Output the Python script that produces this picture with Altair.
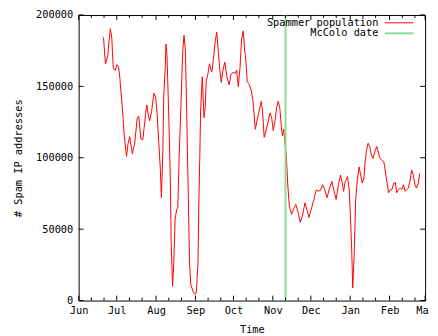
import altair as alt
import pandas as pd

# day offsets since 2008-06-01 and spammer population (thousands)
days = [18.8, 19.6, 21.1, 23.0, 23.7, 25.0, 26.1, 27.3, 28.8, 30.2,
        31.5, 32.5, 34.6, 35.8, 37.7, 38.9, 40.2, 42.3, 44.1, 46.2,
        47.4, 49.0, 50.5, 51.6, 53.6, 54.9, 55.9, 57.5, 59.3, 60.6,
        61.9, 63.2, 64.4, 65.2, 66.3, 67.1, 68.3, 68.8, 69.6, 70.9,
        72.2, 72.9, 74.0, 75.0, 76.0, 77.3, 78.1, 79.1, 80.7, 82.0,
        83.0, 84.1, 85.1, 86.4, 87.4, 88.4, 90.3, 92.0, 92.8, 94.1,
        94.6, 95.4, 96.1, 97.4, 98.8, 99.8, 100.5, 101.9, 103.1, 104.9,
        106.5, 107.5, 108.8, 110.1, 111.4, 112.4, 113.7, 115.2, 116.8, 118.6,
        119.9, 121.7, 123.2, 124.5, 125.8, 127.1, 128.4, 129.7, 130.9, 131.5,
        132.8, 134.0, 135.9, 137.4, 139.2, 141.0, 142.5, 143.9, 144.9, 146.2,
        147.7, 149.5, 150.8, 152.1, 153.4, 154.7, 156.0, 157.2, 158.5, 159.8,
        160.6, 161.6, 162.6, 163.7, 164.7, 166.0, 167.8, 169.4, 171.1, 173.0,
        174.6, 176.3, 178.4, 179.7, 181.5, 183.3, 185.4, 187.2, 188.7, 190.5,
        192.3, 193.9, 195.7, 197.4, 199.5, 201.3, 202.9, 204.7, 206.3, 207.5,
        208.8, 210.1, 211.9, 213.2, 214.5, 215.2, 216.0, 217.1, 218.3, 219.6,
        221.0, 222.2, 223.5, 224.8, 225.6, 226.8, 228.1, 229.5, 230.7, 232.0,
        233.3, 234.9, 236.1, 237.4, 239.0, 240.5, 242.3, 244.2, 245.7, 246.9,
        248.3, 249.6, 250.6, 251.9, 253.4, 254.7, 256.0, 257.3, 258.5, 259.9,
        261.2, 262.4, 263.7, 265.0, 266.3, 267.6, 268.9]

spammers_k = [184.7, 184, 165.8, 171.6, 179.6, 190.4, 184, 162.4, 161.3, 165.2,
              163.6, 155.5, 132.6, 116.6, 101, 109.8, 114.8, 102.9, 109.8, 128,
              129.2, 113.2, 112.5, 121, 137, 130, 125.8, 132.6, 145.2, 143,
              130, 109.8, 91.4, 72, 102.9, 144, 164.7, 179.6, 171.6, 132.6,
              86.8, 41, 10, 27.3, 57, 64, 65, 98.3, 139.5, 174,
              185.8, 176, 132.6, 73, 25, 11, 6, 4.3, 6.7, 27.3,
              64, 98.3, 132.6, 156.7, 128, 136, 153.3, 159, 165.8, 160,
              171.6, 180.8, 188, 174, 160, 152.8, 161.3, 167, 156.7, 151,
              157.9, 160, 159, 161.3, 149.8, 162.4, 183, 188.8, 174, 171.6,
              153.3, 152, 147.6, 139.5, 120, 128, 133.8, 139.5, 132.6, 114.3,
              119, 125.8, 131.5, 128, 119, 125.8, 134.9, 139.5, 134.9, 121.2,
              115.5, 120, 109.8, 100.5, 82.3, 66.2, 60.5, 64, 67.4, 61.6,
              54.8, 59.3, 68.5, 64, 58.2, 64, 70.8, 77.7, 76.5, 77.2,
              81.1, 77.7, 72, 77.7, 83.4, 76.5, 70.8, 81.1, 88, 83.4,
              76.5, 83.4, 86.8, 77.7, 52.4, 34.1, 8.9, 31.8, 70.8, 84.5,
              93.6, 88, 82.3, 85.7, 96, 105.2, 110.2, 107.4, 101.7, 99.5,
              104, 107.9, 104, 99.5, 98.3, 97.1, 86.8, 75.4, 77.7, 77.7,
              82.3, 82.7, 75.4, 77.7, 78.8, 77.7, 81.1, 76.5, 77.7, 78.8,
              84.5, 91.4, 88, 81.1, 78.8, 82.3, 89.1]

month_starts = ["2008-06-01", "2008-07-01", "2008-08-01", "2008-09-01", "2008-10-01",
                "2008-11-01", "2008-12-01", "2009-01-01", "2009-02-01", "2009-03-01"]
y_ticks = [0, 50000, 100000, 150000, 200000]
mccolo_date = "2008-11-11"
series_labels = ["Spammer population", "McColo date"]
series_colors = ["#ff0000", "#8edc8e"]

W, H = 353, 291
FONT = "DejaVu Sans Mono"
FS = 10.5

start = pd.Timestamp("2008-06-01")
df = pd.DataFrame({
    "date": [(start + pd.to_timedelta(d, unit="D")).strftime("%Y-%m-%dT%H:%M:%SZ") for d in days],
    "spammers": [v * 1000 for v in spammers_k],
})

major_df = pd.DataFrame({"date": [m + "T00:00:00Z" for m in month_starts]})
minor_dates = []
for m in month_starts[:-1]:
    for dd in ("11", "21"):
        minor_dates.append(m[:8] + dd + "T00:00:00Z")
minor_df = pd.DataFrame({"date": minor_dates})
ytick_df = pd.DataFrame({"spammers": y_ticks})
mc_df = pd.DataFrame({"date": [mccolo_date + "T00:00:00Z"]})


def dt(s):
    y, m, d = s.split("-")
    return alt.DateTime(year=int(y), month=int(m), date=int(d), utc=True)


x_enc = alt.X(
    "date:T",
    scale=alt.Scale(type="utc", domain=[dt(month_starts[0]), dt(month_starts[-1])]),
    axis=alt.Axis(values=[dt(m) for m in month_starts], format="%b", ticks=False, tickSize=0,
                  domain=False, grid=False, labelPadding=5, labelFlush=False,
                  labelFont=FONT, labelFontSize=FS, labelColor="black",
                  title="Time", titlePadding=9, titleFont=FONT, titleFontSize=FS,
                  titleFontWeight="normal", titleColor="black"),
)
y_enc = alt.Y(
    "spammers:Q",
    scale=alt.Scale(domain=[0, 200000], nice=False, zero=True),
    axis=alt.Axis(values=y_ticks, format="d", ticks=False, tickSize=0, domain=False, grid=False,
                  labelPadding=6, labelFlush=False, labelFont=FONT, labelFontSize=FS,
                  labelColor="black", title="# Spam IP addresses",
                  titleFont=FONT, titleFontSize=FS, titleFontWeight="normal", titleColor="black",
                  titleX=-61, titleY=H / 2, titleAngle=270, titleAlign="center",
                  titleBaseline="middle"),
)

line = alt.Chart(df).mark_line(color=series_colors[0], strokeWidth=1).encode(x=x_enc, y=y_enc)
mc = alt.Chart(mc_df).mark_rule(color=series_colors[1], strokeWidth=2).encode(x=x_enc)

tick_color = "black"
bot_major = alt.Chart(major_df).mark_rule(color=tick_color, strokeWidth=1).encode(
    x=x_enc, y=alt.value(H), y2=alt.value(H - 5))
top_major = alt.Chart(major_df).mark_rule(color=tick_color, strokeWidth=1).encode(
    x=x_enc, y=alt.value(0), y2=alt.value(5))
bot_minor = alt.Chart(minor_df).mark_rule(color=tick_color, strokeWidth=1).encode(
    x=x_enc, y=alt.value(H), y2=alt.value(H - 3))
top_minor = alt.Chart(minor_df).mark_rule(color=tick_color, strokeWidth=1).encode(
    x=x_enc, y=alt.value(0), y2=alt.value(3))
left_t = alt.Chart(ytick_df).mark_rule(color=tick_color, strokeWidth=1).encode(
    y=y_enc, x=alt.value(0), x2=alt.value(5))
right_t = alt.Chart(ytick_df).mark_rule(color=tick_color, strokeWidth=1).encode(
    y=y_enc, x=alt.value(W), x2=alt.value(W - 5))

legend_layers = []
for i, (lab, col) in enumerate(zip(series_labels, series_colors)):
    ly = 8 + i * 10.7
    ldf = pd.DataFrame({"label": [lab]})
    legend_layers.append(
        alt.Chart(ldf).mark_text(align="right", baseline="middle", font=FONT, fontSize=FS,
                                 color="black").encode(
            text="label:N", x=alt.value(305.5), y=alt.value(ly)))
    legend_layers.append(
        alt.Chart(ldf).mark_rule(color=col, strokeWidth=1 if i == 0 else 2).encode(
            x=alt.value(312), x2=alt.value(341), y=alt.value(ly)))

chart = alt.layer(line, mc, bot_major, top_major, bot_minor, top_minor, left_t, right_t,
                  *legend_layers).properties(
    width=W, height=H,
    autosize=alt.AutoSizeParams(type="none"),
    padding={"left": 72, "top": 4, "right": 5, "bottom": 33},
    background="white",
).configure_view(stroke="black", strokeWidth=1)

chart.save("out.html", embed_options={"renderer": "svg", "actions": False})
